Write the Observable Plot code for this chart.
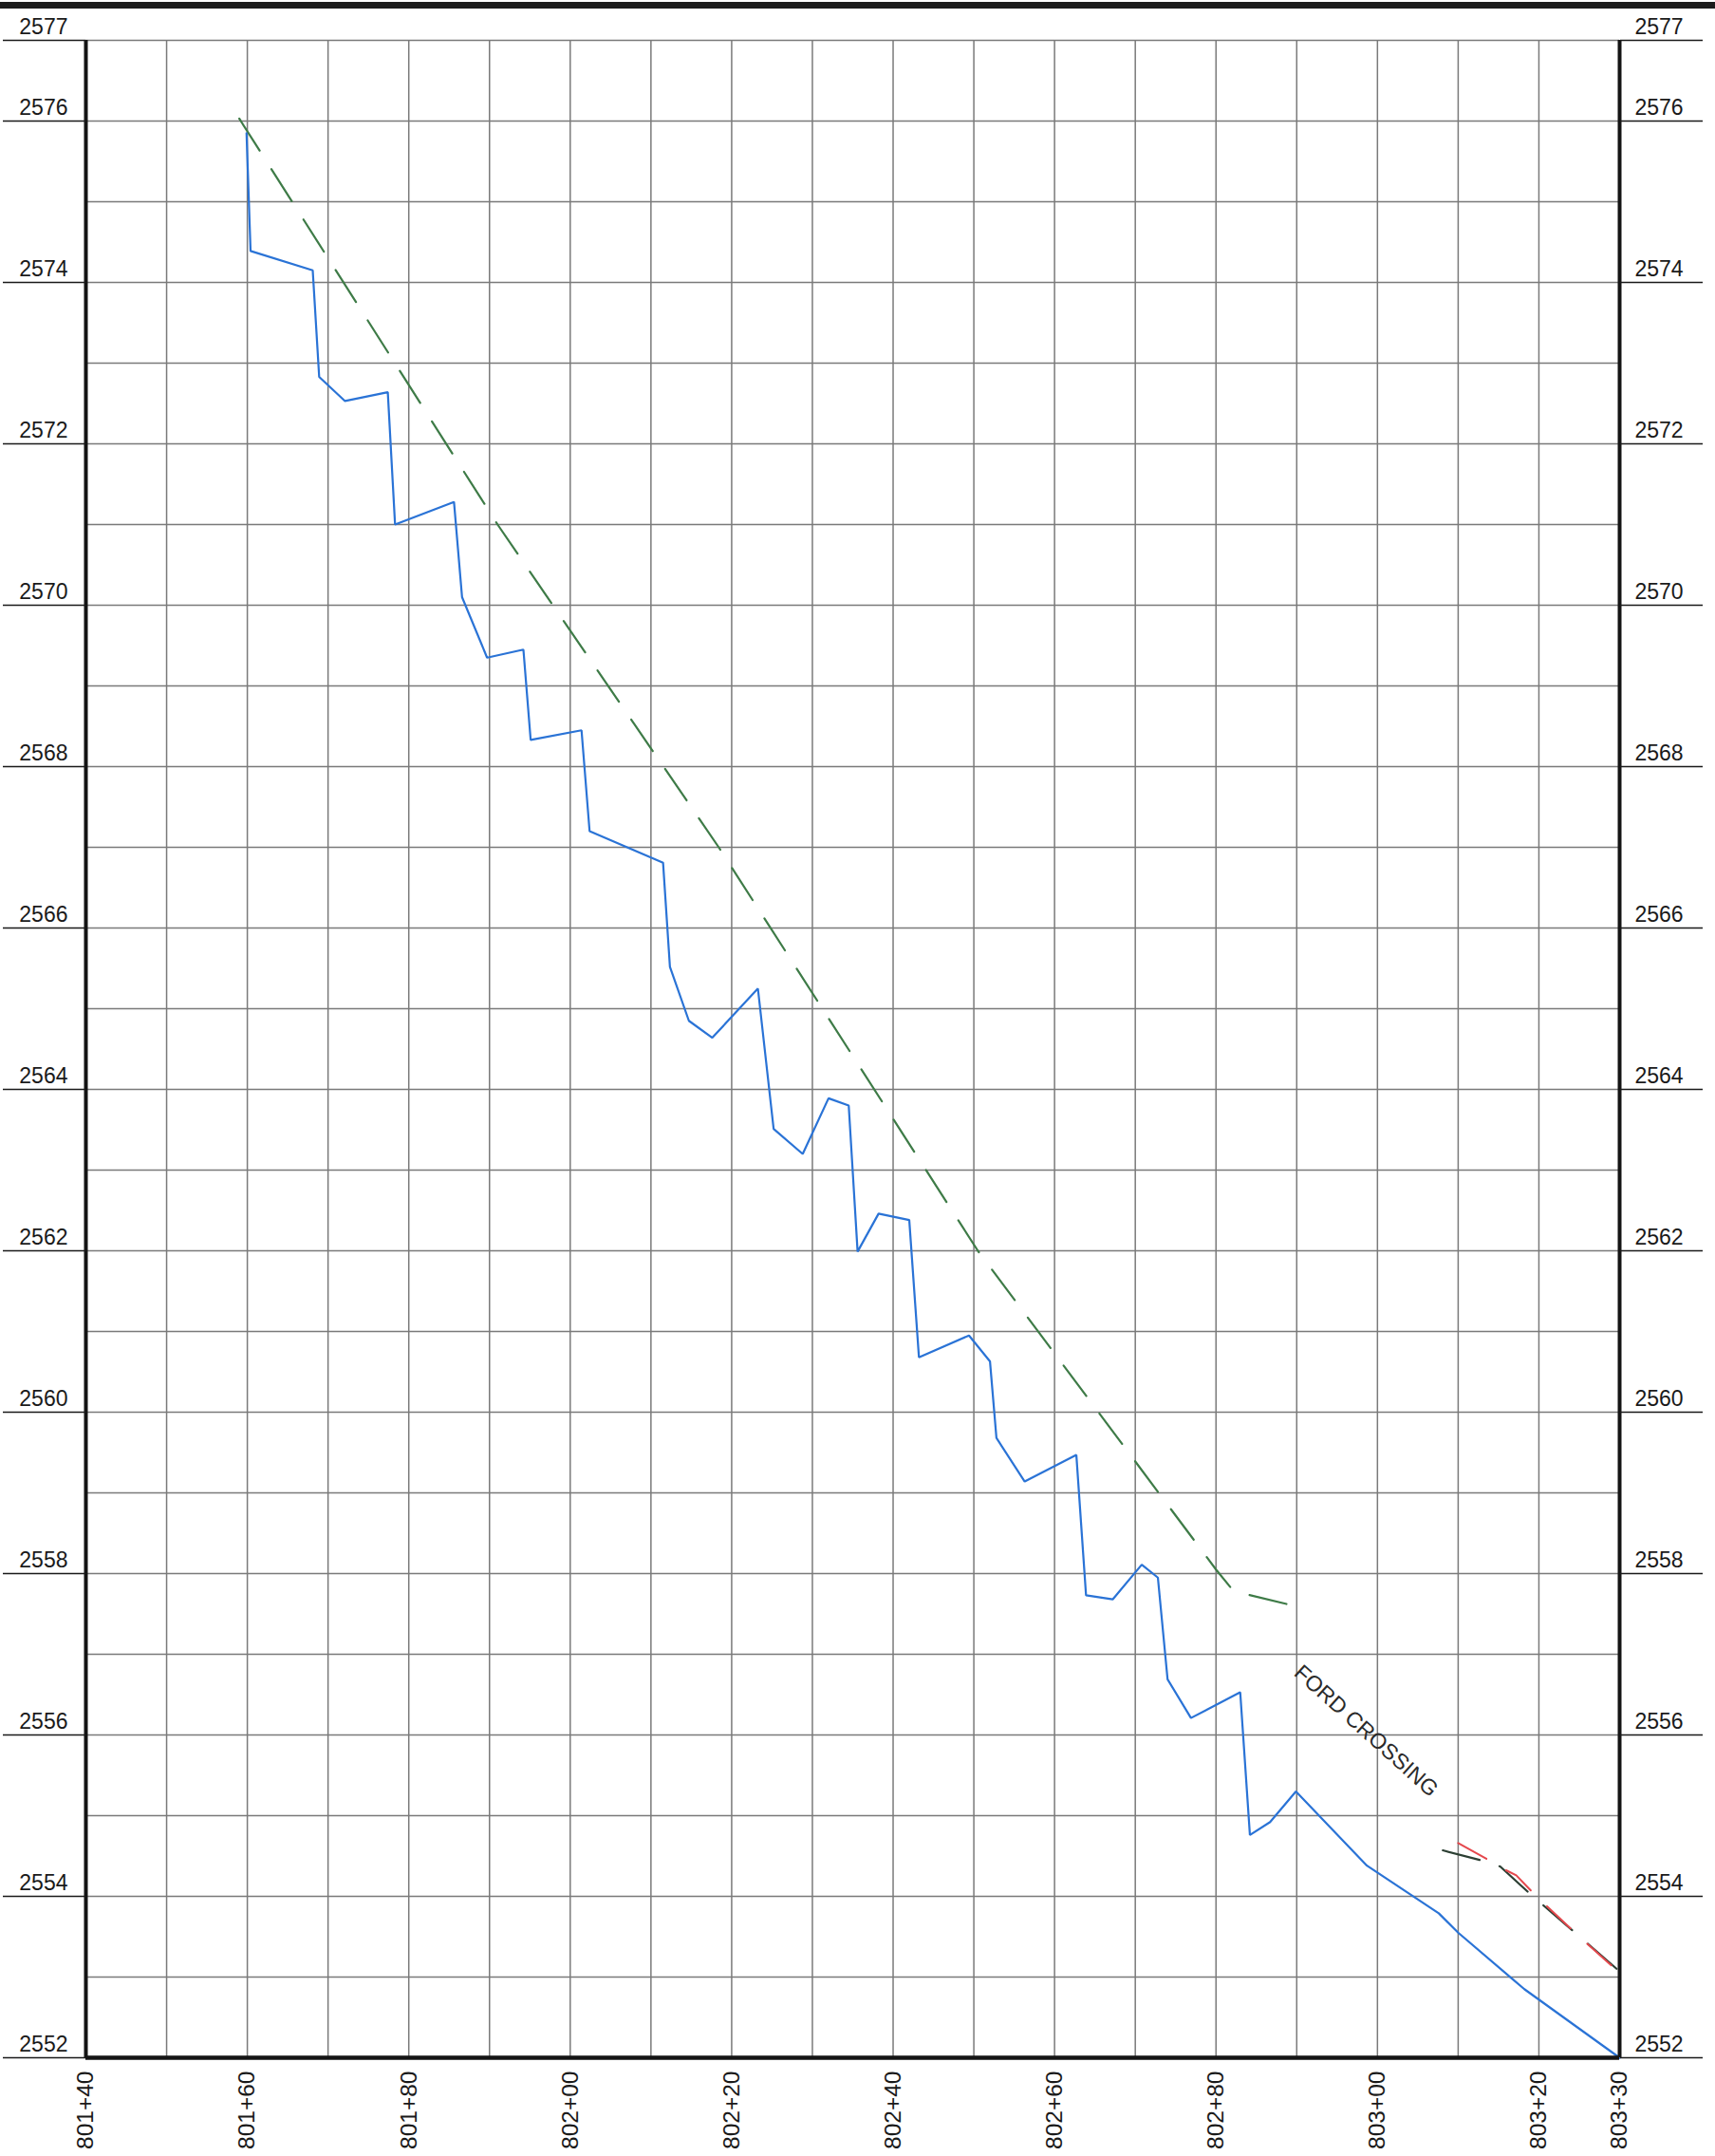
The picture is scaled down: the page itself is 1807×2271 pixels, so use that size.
<!DOCTYPE html>
<html><head><meta charset="utf-8">
<script src="https://cdn.jsdelivr.net/npm/d3@7"></script>
<script src="https://cdn.jsdelivr.net/npm/@observablehq/plot@0.6"></script>
<style>
html,body{margin:0;padding:0;background:#fff;}
#frame{margin-top:2px;border-top:7px solid #1c1c1c;width:1807px;}
</style></head><body><div id="frame"></div>
<script>
// Existing ground profile (blue)
const profileStation = [80159.9, 80160.4, 80168.1, 80168.9, 80172.1, 80177.4, 80178.3, 80185.6, 80186.6, 80189.7,
  80194.2, 80195.1, 80201.4, 80202.4, 80211.5, 80212.35, 80214.7, 80217.6, 80223.25, 80225.2,
  80228.8, 80232.0, 80234.5, 80235.6, 80238.2, 80242.0, 80243.2, 80249.4, 80252.0, 80252.8,
  80256.3, 80262.7, 80263.9, 80267.2, 80270.8, 80272.8, 80274.0, 80276.9, 80283.0, 80284.2,
  80286.7, 80289.9, 80298.7, 80307.6, 80310.0, 80316.8, 80318.2, 80330.0];
const profileElevation = [2575.85, 2574.39, 2574.15, 2572.83, 2572.53, 2572.64, 2571.0, 2571.28, 2570.10, 2569.35,
  2569.45, 2568.33, 2568.45, 2567.20, 2566.81, 2565.52, 2564.85, 2564.64, 2565.25, 2563.51,
  2563.20, 2563.89, 2563.80, 2561.99, 2562.46, 2562.38, 2560.68, 2560.95, 2560.63, 2559.68,
  2559.14, 2559.47, 2557.73, 2557.68, 2558.11, 2557.95, 2556.69, 2556.21, 2556.53, 2554.76,
  2554.92, 2555.30, 2554.38, 2553.79, 2553.55, 2552.97, 2552.85, 2552.0];

// Proposed grade (green dashed)
const gradeStation = [80159.0, 80191.0, 80218.4, 80250.5, 80280.0, 80282.2, 80290.1];
const gradeElevation = [2576.03, 2571.0, 2567.0, 2562.0, 2558.05, 2557.78, 2557.59];

// Segment past the ford (dark dashed)
const darkStation = [80308.1, 80312.7, 80315.2, 80318.8, 80324.6, 80330.0];
const darkElevation = [2554.57, 2554.45, 2554.37, 2554.04, 2553.54, 2553.07];

// Segment past the ford (red dashed)
const redStation = [80310.0, 80313.6, 80315.6, 80317.2, 80319.7, 80325.0, 80329.7];
const redElevation = [2554.66, 2554.46, 2554.34, 2554.26, 2554.0, 2553.5, 2553.08];

// Annotation
const noteText = ["FORD CROSSING"];
const noteStation = [80298.6];
const noteElevation = [2556.05];

// Ticks and grid
const xTickStations = [80140, 80160, 80180, 80200, 80220, 80240, 80260, 80280, 80300, 80320, 80330];
const yTickElevations = [2552, 2554, 2556, 2558, 2560, 2562, 2564, 2566, 2568, 2570, 2572, 2574, 2576, 2577];
const xGridStations = [80140, 80150, 80160, 80170, 80180, 80190, 80200, 80210, 80220, 80230, 80240, 80250, 80260, 80270, 80280, 80290, 80300, 80310, 80320, 80330];
const yGridElevations = [2552, 2553, 2554, 2555, 2556, 2557, 2558, 2559, 2560, 2561, 2562, 2563, 2564, 2565, 2566, 2567, 2568, 2569, 2570, 2571, 2572, 2573, 2574, 2575, 2576, 2577];

const zip = (xs, ys) => xs.map((x, i) => ({station: x, elevation: ys[i]}));
const profile = zip(profileStation, profileElevation);
const grade = zip(gradeStation, gradeElevation);
const dark = zip(darkStation, darkElevation);
const red = zip(redStation, redElevation);
const notes = noteText.map((t, i) => ({text: t, station: noteStation[i], elevation: noteElevation[i]}));

const fmt = d => `${Math.floor(d / 100)}+${String(Math.round(d % 100)).padStart(2, "0")}`;
const font = "'Liberation Sans', Arial, sans-serif";

const chart = Plot.plot({
  width: 1807,
  height: 2262,
  marginLeft: 90,
  marginRight: 101,
  marginTop: 33,
  marginBottom: 104,
  x: {domain: [80140, 80330], label: null},
  y: {domain: [2552, 2577], label: null},
  style: {fontFamily: font, color: "#1a1a1a", background: "#fff", overflow: "visible"},
  marks: [
    Plot.gridX(xGridStations, {stroke: "#7a7a7a", strokeOpacity: 1, strokeWidth: 1.5}),
    Plot.gridY(yGridElevations, {stroke: "#7a7a7a", strokeOpacity: 1, strokeWidth: 1.5}),
    Plot.line(grade, {x: "station", y: "elevation", stroke: "#3e7b47", strokeWidth: 2.2, strokeDasharray: "40,23"}),
    Plot.line(dark, {x: "station", y: "elevation", stroke: "#2c3f33", strokeWidth: 2.2, strokeDasharray: "40,22"}),
    Plot.line(red, {x: "station", y: "elevation", stroke: "#e5484d", strokeWidth: 2, strokeDasharray: "34,24"}),
    Plot.line(profile, {x: "station", y: "elevation", stroke: "#2a73d6", strokeWidth: 2.2, strokeLinejoin: "miter"}),
    Plot.text(notes, {x: "station", y: "elevation", text: "text", rotate: 42, fontSize: 23, fill: "#2a2a2a", fontFamily: font}),
    Plot.ruleX([80140, 80330], {stroke: "#141414", strokeWidth: 4}),
    Plot.ruleY([2552], {stroke: "#141414", strokeWidth: 4.5}),
    // elevation tick lines (left and right)
    Plot.axisY(yTickElevations, {anchor: "left", tickSize: 87, tickFormat: () => "", strokeWidth: 1.6, color: "#1a1a1a", label: null}),
    Plot.axisY(yTickElevations, {anchor: "right", tickSize: 87, tickFormat: () => "", strokeWidth: 1.6, color: "#1a1a1a", label: null}),
    // elevation labels sitting above the tick lines
    Plot.text(yTickElevations, {y: d => d, text: d => String(d), frameAnchor: "left", textAnchor: "end", dx: -19, dy: -14, fontSize: 23, fill: "#1a1a1a", fontFamily: font}),
    Plot.text(yTickElevations, {y: d => d, text: d => String(d), frameAnchor: "right", textAnchor: "start", dx: 16, dy: -14, fontSize: 23, fill: "#1a1a1a", fontFamily: font}),
    Plot.axisX(xTickStations, {anchor: "bottom", tickSize: 0, tickPadding: 14, tickRotate: -90, tickFormat: fmt, fontSize: 24.5, fontFamily: font, color: "#1a1a1a", label: null})
  ]
});
document.getElementById("frame").appendChild(chart);
</script>
</body></html>
